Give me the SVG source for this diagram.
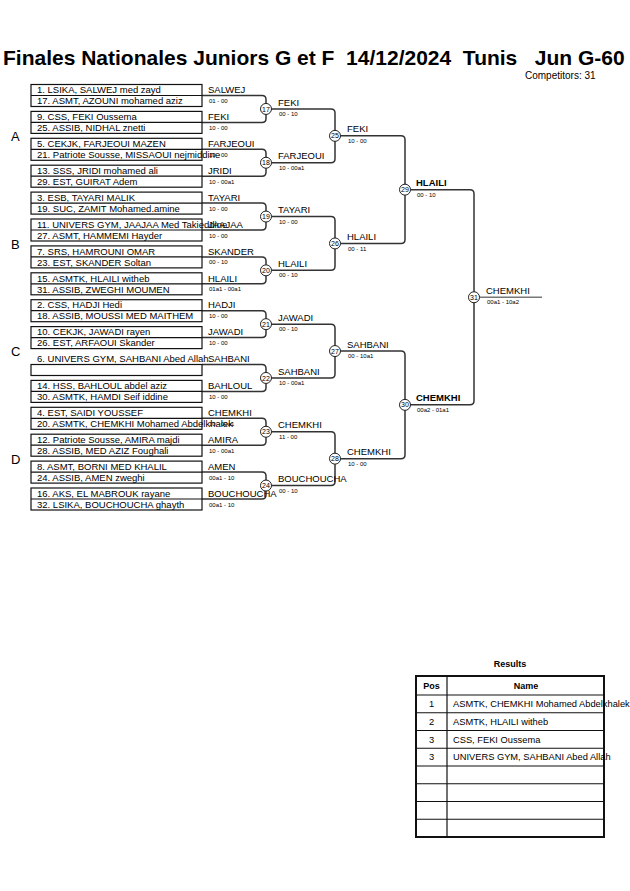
<svg xmlns="http://www.w3.org/2000/svg" width="630" height="891" viewBox="0 0 630 891">
<style>
text{font-family:"Liberation Sans",Arial,sans-serif;fill:#000}
.title{font-size:21px;font-weight:bold;white-space:pre}
.comp{font-size:10px}
.grp{font-size:13px}
.row{font-size:9.5px}
.win{font-size:9.5px}
.b{font-weight:bold}
.sc{font-size:6px}
.num{font-size:7px;text-anchor:middle}
.box{fill:none;stroke:#111;stroke-width:1.2}
.div{stroke:#111;stroke-width:1.2}
.br{fill:none;stroke:#333;stroke-width:1.5}
.fin{fill:none;stroke:#777;stroke-width:1.5}
.cir{fill:#fff;stroke:#222;stroke-width:1}
.tb{fill:none;stroke:#111;stroke-width:1.2}
.tbo{fill:none;stroke:#111;stroke-width:2}
.th{font-size:9px;font-weight:bold;text-anchor:middle}
.tp{font-size:9.3px;text-anchor:middle}
.tn{font-size:9.3px}
</style>
<rect width="630" height="891" fill="#fff"/>
<text class="title" x="3" y="65" xml:space="preserve">Finales Nationales Juniors G et F  14/12/2024  Tunis   Jun G-60</text>
<text class="comp" x="525" y="79">Competitors: 31</text>
<g id="groups">
<text class="grp" x="11" y="141">A</text>
<text class="grp" x="11" y="249">B</text>
<text class="grp" x="11" y="356">C</text>
<text class="grp" x="11" y="464">D</text>
</g>
<g id="connectors">
<path class="br" d="M202,95.5H262Q266,95.5 266,99.5V118.4Q266,122.4 262,122.4H202"/>
<path class="br" d="M202,149.3H262Q266,149.3 266,153.3V172.2Q266,176.2 262,176.2H202"/>
<path class="br" d="M202,203.1H262Q266,203.1 266,207.1V226Q266,230 262,230H202"/>
<path class="br" d="M202,256.9H262Q266,256.9 266,260.9V279.8Q266,283.8 262,283.8H202"/>
<path class="br" d="M202,310.7H262Q266,310.7 266,314.7V333.6Q266,337.6 262,337.6H202"/>
<path class="br" d="M202,364.5H262Q266,364.5 266,368.5V387.4Q266,391.4 262,391.4H202"/>
<path class="br" d="M202,418.3H262Q266,418.3 266,422.3V441.2Q266,445.2 262,445.2H202"/>
<path class="br" d="M202,472.1H262Q266,472.1 266,476.1V495Q266,499 262,499H202"/>
<path class="br" d="M266,108.95H331Q335,108.95 335,112.95V158.75Q335,162.75 331,162.75H266"/>
<path class="br" d="M266,216.55H331Q335,216.55 335,220.55V266.35Q335,270.35 331,270.35H266"/>
<path class="br" d="M266,324.15H331Q335,324.15 335,328.15V373.95Q335,377.95 331,377.95H266"/>
<path class="br" d="M266,431.75H331Q335,431.75 335,435.75V481.55Q335,485.55 331,485.55H266"/>
<path class="br" d="M335,135.85H401Q405,135.85 405,139.85V239.45Q405,243.45 401,243.45H335"/>
<path class="br" d="M335,351.05H401Q405,351.05 405,355.05V454.65Q405,458.65 401,458.65H335"/>
<path class="br" d="M405,189.65H470Q474,189.65 474,193.65V400.85Q474,404.85 470,404.85H405"/>
<path class="fin" d="M474,297.25H542"/>
</g>
<g id="entries">
<g id="m1"><rect class="box" x="31" y="84.5" width="171" height="22"/><line class="div" x1="31" y1="95.5" x2="202" y2="95.5"/><text class="row" x="37" y="93.2">1. LSIKA, SALWEJ med zayd</text><text class="row" x="37" y="104.2">17. ASMT, AZOUNI mohamed aziz</text><text class="win" x="208" y="93.2">SALWEJ</text><text class="sc" x="209" y="103">01 - 00</text></g>
<g id="m2"><rect class="box" x="31" y="111.4" width="171" height="22"/><line class="div" x1="31" y1="122.4" x2="202" y2="122.4"/><text class="row" x="37" y="120.1">9. CSS, FEKI Oussema</text><text class="row" x="37" y="131.1">25. ASSIB, NIDHAL znetti</text><text class="win" x="208" y="120.1">FEKI</text><text class="sc" x="209" y="129.9">10 - 00</text></g>
<g id="m3"><rect class="box" x="31" y="138.3" width="171" height="22"/><line class="div" x1="31" y1="149.3" x2="202" y2="149.3"/><text class="row" x="37" y="147">5. CEKJK, FARJEOUI MAZEN</text><text class="row" x="37" y="158">21. Patriote Sousse, MISSAOUI nejmiddine</text><text class="win" x="208" y="147">FARJEOUI</text><text class="sc" x="209" y="156.8">10 - 00</text></g>
<g id="m4"><rect class="box" x="31" y="165.2" width="171" height="22"/><line class="div" x1="31" y1="176.2" x2="202" y2="176.2"/><text class="row" x="37" y="173.9">13. SSS, JRIDI mohamed ali</text><text class="row" x="37" y="184.9">29. EST, GUIRAT Adem</text><text class="win" x="208" y="173.9">JRIDI</text><text class="sc" x="209" y="183.7">10 - 00a1</text></g>
<g id="m5"><rect class="box" x="31" y="192.1" width="171" height="22"/><line class="div" x1="31" y1="203.1" x2="202" y2="203.1"/><text class="row" x="37" y="200.8">3. ESB, TAYARI MALIK</text><text class="row" x="37" y="211.8">19. SUC, ZAMIT Mohamed.amine</text><text class="win" x="208" y="200.8">TAYARI</text><text class="sc" x="209" y="210.6">10 - 00</text></g>
<g id="m6"><rect class="box" x="31" y="219" width="171" height="22"/><line class="div" x1="31" y1="230" x2="202" y2="230"/><text class="row" x="37" y="227.7">11. UNIVERS GYM, JAAJAA Med Takieddine</text><text class="row" x="37" y="238.7">27. ASMT, HAMMEMI Hayder</text><text class="win" x="208" y="227.7">JAAJAA</text><text class="sc" x="209" y="237.5">10 - 00</text></g>
<g id="m7"><rect class="box" x="31" y="245.9" width="171" height="22"/><line class="div" x1="31" y1="256.9" x2="202" y2="256.9"/><text class="row" x="37" y="254.6">7. SRS, HAMROUNI OMAR</text><text class="row" x="37" y="265.6">23. EST, SKANDER Soltan</text><text class="win" x="208" y="254.6">SKANDER</text><text class="sc" x="209" y="264.4">00 - 10</text></g>
<g id="m8"><rect class="box" x="31" y="272.8" width="171" height="22"/><line class="div" x1="31" y1="283.8" x2="202" y2="283.8"/><text class="row" x="37" y="281.5">15. ASMTK, HLAILI witheb</text><text class="row" x="37" y="292.5">31. ASSIB, ZWEGHI MOUMEN</text><text class="win" x="208" y="281.5">HLAILI</text><text class="sc" x="209" y="291.3">01a1 - 00a1</text></g>
<g id="m9"><rect class="box" x="31" y="299.7" width="171" height="22"/><line class="div" x1="31" y1="310.7" x2="202" y2="310.7"/><text class="row" x="37" y="308.4">2. CSS, HADJI Hedi</text><text class="row" x="37" y="319.4">18. ASSIB, MOUSSI MED MAITHEM</text><text class="win" x="208" y="308.4">HADJI</text><text class="sc" x="209" y="318.2">10 - 00</text></g>
<g id="m10"><rect class="box" x="31" y="326.6" width="171" height="22"/><line class="div" x1="31" y1="337.6" x2="202" y2="337.6"/><text class="row" x="37" y="335.3">10. CEKJK, JAWADI rayen</text><text class="row" x="37" y="346.3">26. EST, ARFAOUI Skander</text><text class="win" x="208" y="335.3">JAWADI</text><text class="sc" x="209" y="345.1">10 - 00</text></g>
<g id="m11"><rect class="box" x="31" y="364.5" width="171" height="11"/><text class="row" x="37" y="362.2">6. UNIVERS GYM, SAHBANI Abed Allah</text><text class="win" x="208" y="362.2">SAHBANI</text></g>
<g id="m12"><rect class="box" x="31" y="380.4" width="171" height="22"/><line class="div" x1="31" y1="391.4" x2="202" y2="391.4"/><text class="row" x="37" y="389.1">14. HSS, BAHLOUL abdel aziz</text><text class="row" x="37" y="400.1">30. ASMTK, HAMDI Seif iddine</text><text class="win" x="208" y="389.1">BAHLOUL</text><text class="sc" x="209" y="398.9">10 - 00</text></g>
<g id="m13"><rect class="box" x="31" y="407.3" width="171" height="22"/><line class="div" x1="31" y1="418.3" x2="202" y2="418.3"/><text class="row" x="37" y="416">4. EST, SAIDI YOUSSEF</text><text class="row" x="37" y="427">20. ASMTK, CHEMKHI Mohamed Abdelkhalek</text><text class="win" x="208" y="416">CHEMKHI</text><text class="sc" x="209" y="425.8">10 - 00a1</text></g>
<g id="m14"><rect class="box" x="31" y="434.2" width="171" height="22"/><line class="div" x1="31" y1="445.2" x2="202" y2="445.2"/><text class="row" x="37" y="442.9">12. Patriote Sousse, AMIRA majdi</text><text class="row" x="37" y="453.9">28. ASSIB, MED AZIZ Foughali</text><text class="win" x="208" y="442.9">AMIRA</text><text class="sc" x="209" y="452.7">10 - 00a1</text></g>
<g id="m15"><rect class="box" x="31" y="461.1" width="171" height="22"/><line class="div" x1="31" y1="472.1" x2="202" y2="472.1"/><text class="row" x="37" y="469.8">8. ASMT, BORNI MED KHALIL</text><text class="row" x="37" y="480.8">24. ASSIB, AMEN zweghi</text><text class="win" x="208" y="469.8">AMEN</text><text class="sc" x="209" y="479.6">00a1 - 10</text></g>
<g id="m16"><rect class="box" x="31" y="488" width="171" height="22"/><line class="div" x1="31" y1="499" x2="202" y2="499"/><text class="row" x="37" y="496.7">16. AKS, EL MABROUK rayane</text><text class="row" x="37" y="507.7">32. LSIKA, BOUCHOUCHA ghayth</text><text class="win" x="208" y="496.7">BOUCHOUCHA</text><text class="sc" x="209" y="506.5">00a1 - 10</text></g>
</g>
<g id="matches">
<g id="n17"><circle class="cir" cx="266" cy="108.95" r="5.5"/><text class="num" x="266" y="111.5">17</text><text class="win" x="278" y="105.5">FEKI</text><text class="sc" x="279" y="116">00 - 10</text></g>
<g id="n18"><circle class="cir" cx="266" cy="162.75" r="5.5"/><text class="num" x="266" y="165.3">18</text><text class="win" x="278" y="159.3">FARJEOUI</text><text class="sc" x="279" y="169.8">10 - 00a1</text></g>
<g id="n19"><circle class="cir" cx="266" cy="216.55" r="5.5"/><text class="num" x="266" y="219.1">19</text><text class="win" x="278" y="213.1">TAYARI</text><text class="sc" x="279" y="223.6">10 - 00</text></g>
<g id="n20"><circle class="cir" cx="266" cy="270.35" r="5.5"/><text class="num" x="266" y="272.9">20</text><text class="win" x="278" y="266.9">HLAILI</text><text class="sc" x="279" y="277.4">00 - 10</text></g>
<g id="n21"><circle class="cir" cx="266" cy="324.15" r="5.5"/><text class="num" x="266" y="326.7">21</text><text class="win" x="278" y="320.7">JAWADI</text><text class="sc" x="279" y="331.2">00 - 10</text></g>
<g id="n22"><circle class="cir" cx="266" cy="377.95" r="5.5"/><text class="num" x="266" y="380.5">22</text><text class="win" x="278" y="374.5">SAHBANI</text><text class="sc" x="279" y="385">10 - 00a1</text></g>
<g id="n23"><circle class="cir" cx="266" cy="431.75" r="5.5"/><text class="num" x="266" y="434.3">23</text><text class="win" x="278" y="428.3">CHEMKHI</text><text class="sc" x="279" y="438.8">11 - 00</text></g>
<g id="n24"><circle class="cir" cx="266" cy="485.55" r="5.5"/><text class="num" x="266" y="488.1">24</text><text class="win" x="278" y="482.1">BOUCHOUCHA</text><text class="sc" x="279" y="492.6">00 - 10</text></g>
<g id="n25"><circle class="cir" cx="335" cy="135.85" r="5.5"/><text class="num" x="335" y="138.4">25</text><text class="win" x="347" y="132.4">FEKI</text><text class="sc" x="348" y="142.9">10 - 00</text></g>
<g id="n26"><circle class="cir" cx="335" cy="243.45" r="5.5"/><text class="num" x="335" y="246">26</text><text class="win" x="347" y="240">HLAILI</text><text class="sc" x="348" y="250.5">00 - 11</text></g>
<g id="n27"><circle class="cir" cx="335" cy="351.05" r="5.5"/><text class="num" x="335" y="353.6">27</text><text class="win" x="347" y="347.6">SAHBANI</text><text class="sc" x="348" y="358.1">00 - 10a1</text></g>
<g id="n28"><circle class="cir" cx="335" cy="458.65" r="5.5"/><text class="num" x="335" y="461.2">28</text><text class="win" x="347" y="455.2">CHEMKHI</text><text class="sc" x="348" y="465.7">10 - 00</text></g>
<g id="n29"><circle class="cir" cx="405" cy="189.65" r="5.5"/><text class="num" x="405" y="192.2">29</text><text class="win b" x="416" y="186.2">HLAILI</text><text class="sc" x="417" y="196.7">00 - 10</text></g>
<g id="n30"><circle class="cir" cx="405" cy="404.85" r="5.5"/><text class="num" x="405" y="407.4">30</text><text class="win b" x="416" y="401.4">CHEMKHI</text><text class="sc" x="417" y="411.9">00a2 - 01a1</text></g>
<g id="n31"><circle class="cir" cx="474" cy="297.25" r="5.5"/><text class="num" x="474" y="299.8">31</text><text class="win" x="486" y="293.8">CHEMKHI</text><text class="sc" x="487" y="304.3">00a1 - 10a2</text></g>
</g>
<g id="results">
<text class="th" x="510" y="667">Results</text>
<rect class="tbo" x="416" y="676" width="188" height="161"/>
<line class="tb" x1="416" y1="695" x2="604" y2="695"/>
<line class="tb" x1="416" y1="712.75" x2="604" y2="712.75"/>
<line class="tb" x1="416" y1="730.5" x2="604" y2="730.5"/>
<line class="tb" x1="416" y1="748.25" x2="604" y2="748.25"/>
<line class="tb" x1="416" y1="766" x2="604" y2="766"/>
<line class="tb" x1="416" y1="783.75" x2="604" y2="783.75"/>
<line class="tb" x1="416" y1="801.5" x2="604" y2="801.5"/>
<line class="tb" x1="416" y1="819.25" x2="604" y2="819.25"/>
<line class="tb" x1="447" y1="676" x2="447" y2="837"/>
<text class="th" x="431.5" y="689">Pos</text>
<text class="th" x="526" y="689">Name</text>
<text class="tp" x="431.5" y="707">1</text><text class="tn" x="453" y="707">ASMTK, CHEMKHI Mohamed Abdelkhalek</text>
<text class="tp" x="431.5" y="724.7">2</text><text class="tn" x="453" y="724.7">ASMTK, HLAILI witheb</text>
<text class="tp" x="431.5" y="742.5">3</text><text class="tn" x="453" y="742.5">CSS, FEKI Oussema</text>
<text class="tp" x="431.5" y="760.2">3</text><text class="tn" x="453" y="760.2">UNIVERS GYM, SAHBANI Abed Allah</text>
</g>
</svg>
